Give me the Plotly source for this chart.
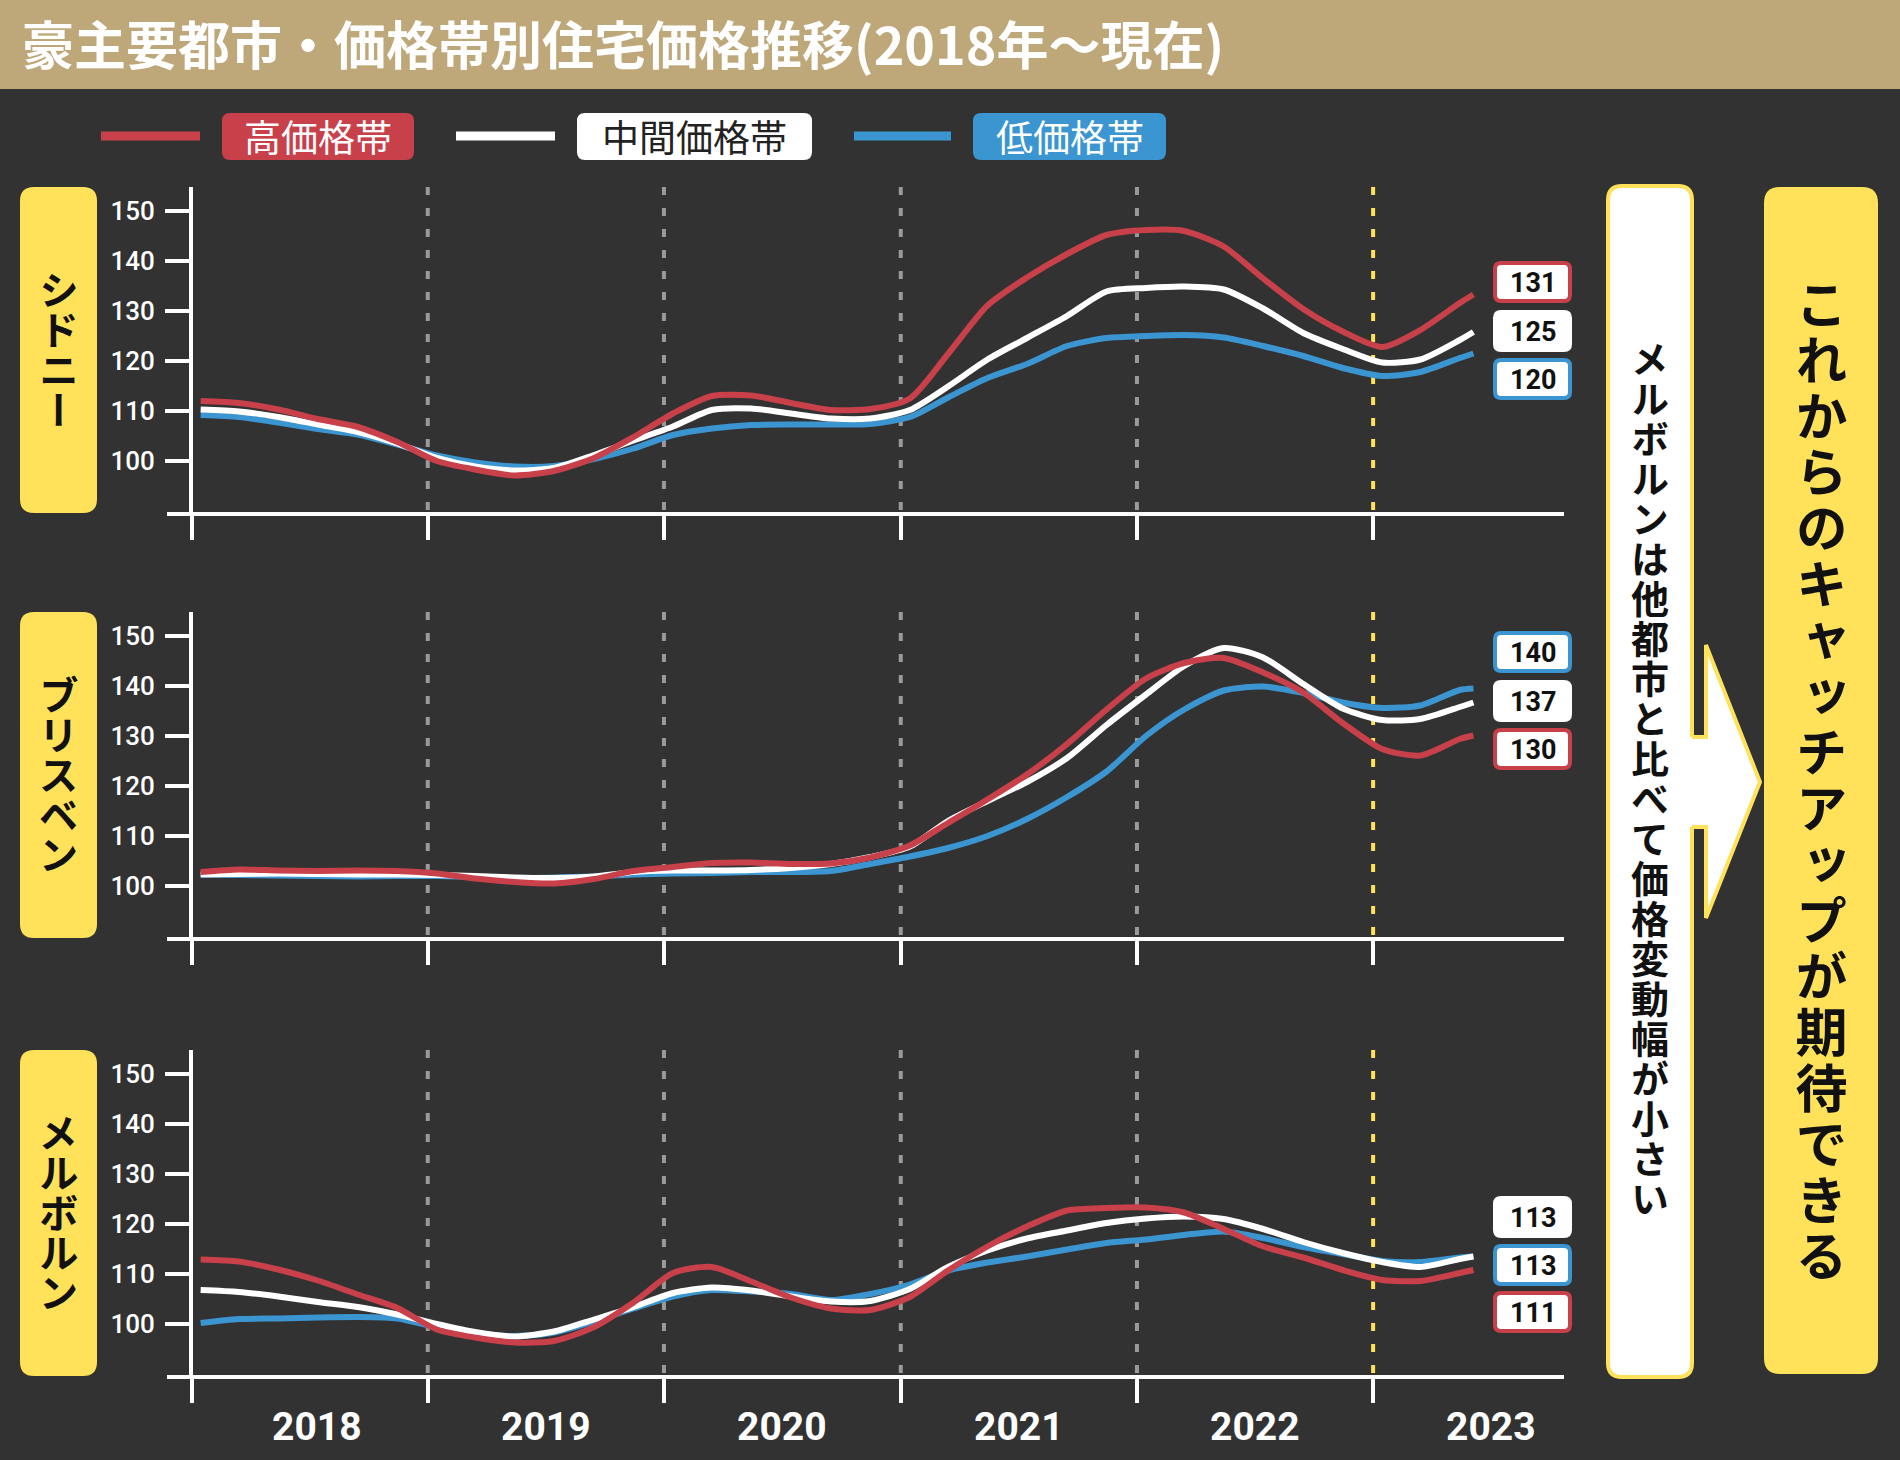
import json
import plotly.graph_objects as go

W, H = 1900, 1460

# ---------------- data ----------------
dates = [
    "2018-01-15", "2018-03-15", "2018-05-15", "2018-07-15", "2018-09-15", "2018-11-15",
    "2019-01-15", "2019-03-15", "2019-05-15", "2019-07-15", "2019-09-15", "2019-11-15",
    "2020-01-15", "2020-03-15", "2020-05-15", "2020-07-15", "2020-09-15", "2020-11-15",
    "2021-01-15", "2021-03-15", "2021-05-15", "2021-07-15", "2021-09-15", "2021-11-15",
    "2022-01-15", "2022-03-15", "2022-05-15", "2022-07-15", "2022-09-15", "2022-11-15",
    "2023-01-15", "2023-03-15", "2023-05-15", "2023-06-05",
]

cities = ["シドニー", "ブリスベン", "メルボルン"]
series_names = ["高価格帯", "中間価格帯", "低価格帯"]
year_labels = ["2018", "2019", "2020", "2021", "2022", "2023"]
y_ticks = [100, 110, 120, 130, 140, 150]

sydney_high = [112.0, 111.6, 110.3, 108.4, 106.8, 103.8, 100.0, 98.3, 97.1, 98.0, 100.6, 104.8,
               109.5, 113.0, 113.1, 111.6, 110.2, 110.4, 112.5, 121.4, 131.1, 136.7, 141.4, 145.2,
               146.2, 146.0, 142.9, 136.5, 130.4, 125.9, 122.8, 126.2, 131.6, 133.3]
sydney_mid = [110.3, 109.9, 108.8, 107.3, 105.8, 103.5, 100.6, 98.9, 98.1, 98.6, 101.2, 104.1,
              106.9, 110.2, 110.5, 109.5, 108.5, 108.5, 110.2, 114.9, 120.3, 124.6, 129.0, 133.9,
              134.6, 134.9, 134.3, 130.5, 125.6, 122.4, 119.7, 120.3, 124.2, 125.8]
sydney_low = [109.2, 108.8, 107.7, 106.4, 105.3, 103.3, 101.1, 99.7, 98.9, 99.0, 100.4, 102.5,
              105.2, 106.5, 107.2, 107.3, 107.3, 107.4, 108.8, 112.7, 116.6, 119.4, 123.0, 124.6,
              125.0, 125.2, 124.7, 123.0, 121.0, 118.6, 117.0, 117.8, 120.6, 121.5]

brisbane_high = [102.8, 103.3, 103.1, 103.0, 103.1, 103.0, 102.5, 101.5, 100.8, 100.5, 101.4, 103.0,
                 103.8, 104.6, 104.7, 104.4, 104.5, 105.7, 108.1, 112.6, 117.3, 122.3, 128.4, 135.3,
                 141.5, 144.6, 145.6, 142.7, 138.7, 132.6, 127.4, 126.1, 129.4, 130.1]
brisbane_mid = [102.3, 102.4, 102.5, 102.4, 102.3, 102.3, 102.2, 102.0, 101.7, 101.6, 101.9, 102.8,
                103.1, 103.1, 103.2, 103.6, 104.4, 105.8, 107.9, 113.0, 117.0, 120.8, 125.6, 132.2,
                138.3, 144.0, 147.6, 145.7, 140.4, 135.5, 133.2, 133.4, 135.8, 136.7]
brisbane_low = [102.3, 102.2, 102.1, 102.0, 101.9, 102.0, 102.0, 101.8, 101.5, 101.7, 101.9, 102.3,
                102.5, 102.6, 102.8, 102.8, 103.0, 104.4, 105.9, 107.6, 110.0, 113.4, 117.8, 122.9,
                130.0, 135.3, 139.1, 139.9, 138.6, 136.7, 135.6, 136.1, 139.2, 139.5]

melbourne_high = [112.9, 112.5, 110.9, 108.7, 105.9, 103.2, 98.9, 97.3, 96.3, 96.6, 99.4, 104.3,
                  110.2, 111.4, 108.5, 105.3, 103.1, 102.8, 105.4, 110.7, 115.5, 119.5, 122.7, 123.2,
                  123.3, 122.3, 119.0, 115.5, 113.3, 110.8, 108.8, 108.6, 110.2, 110.8]
melbourne_mid = [106.8, 106.4, 105.5, 104.4, 103.4, 101.9, 100.0, 98.4, 97.5, 98.5, 100.9, 103.4,
                 106.2, 107.3, 106.7, 105.5, 104.5, 104.6, 107.0, 111.4, 114.7, 117.1, 118.7, 120.2,
                 121.1, 121.5, 121.0, 119.0, 116.4, 114.2, 112.4, 111.4, 113.0, 113.5]
melbourne_low = [100.2, 101.0, 101.1, 101.3, 101.4, 101.1, 99.3, 98.0, 97.6, 98.3, 100.5, 103.1,
                 105.5, 106.8, 106.5, 106.0, 104.8, 106.0, 107.9, 110.7, 112.3, 113.5, 114.9, 116.2,
                 116.9, 117.8, 118.5, 117.2, 115.4, 114.0, 112.6, 112.4, 113.3, 113.5]

# latest values shown in the boxes at the right end of each panel
end_label_high = [131, 130, 111]
end_label_mid = [125, 137, 113]
end_label_low = [120, 140, 113]

note_text = "メルボルンは他都市と比べて価格変動幅が小さい"
conclusion_text = "これからのキャッチアップが期待できる"
title_text = "豪主要都市・価格帯別住宅価格推移(2018年～現在)"

# ---------------- style ----------------
BG = "#323232"
TITLE_BG = "#BEA87A"
RED = "#C8404A"
WHITE = "#FFFFFF"
BLUE = "#3A95D0"
YELLOW = "#FFE15A"
GRAY = "#9A9A9A"
INK = "#111111"
JP = "Noto Sans CJK JP"
NUM = "Roboto"

series_colors = [RED, WHITE, BLUE]
panel_data = [
    [sydney_high, sydney_mid, sydney_low],
    [brisbane_high, brisbane_mid, brisbane_low],
    [melbourne_high, melbourne_mid, melbourne_low],
]
end_labels = [[end_label_high[i], end_label_mid[i], end_label_low[i]] for i in range(3)]

# layout geometry (pixels)
panel_tops = [187, 612, 1050]
panel_h = 325
x_left, x_right = 167, 1564
yaxis_px = 191
y_range = [89.8, 154.8]
x_range = ["2017-11-24", "2023-10-23"]
label_y_px = [  # order: high, mid, low
    [282, 331, 379],
    [749, 701, 652],
    [1312, 1217, 1265],
]


def pxx(x):
    return x / W


def pyy(y):
    return 1 - y / H


def rrect_path(x0, y0, x1, y1, r):
    pts = [
        ("M", [(x0 + r, y0)]), ("L", [(x1 - r, y0)]), ("Q", [(x1, y0), (x1, y0 + r)]),
        ("L", [(x1, y1 - r)]), ("Q", [(x1, y1), (x1 - r, y1)]), ("L", [(x0 + r, y1)]),
        ("Q", [(x0, y1), (x0, y1 - r)]), ("L", [(x0, y0 + r)]), ("Q", [(x0, y0), (x0 + r, y0)]),
    ]
    s = ""
    for cmd, ps in pts:
        s += cmd + " " + " ".join(f"{pxx(a):.6f},{pyy(b):.6f}" for a, b in ps) + " "
    return s + "Z"


def poly_path(points, close=True):
    s = "M " + " L ".join(f"{pxx(a):.6f},{pyy(b):.6f}" for a, b in points)
    return s + (" Z" if close else "")


shapes = []
annotations = []
vertical_texts = {}  # text -> extra letter spacing (px); set upright (vertical-rl) in the page


def add_rrect(x0, y0, x1, y1, r, fill, line_color=None, line_width=0):
    shapes.append(dict(type="path", xref="paper", yref="paper", path=rrect_path(x0, y0, x1, y1, r),
                       fillcolor=fill, line=dict(color=line_color or fill, width=line_width),
                       layer="below"))


def add_text(text, x, y, size, color, weight="normal", family=JP, xanchor="center", **kw):
    annotations.append(dict(text=text, x=pxx(x), y=pyy(y), xref="paper", yref="paper",
                            showarrow=False, xanchor=xanchor, yanchor="middle",
                            font=dict(size=size, color=color, family=family, weight=weight), **kw))


def add_vertical(text, cx, cy, size, spacing):
    add_text(text, cx, cy, size, INK, weight="bold")
    vertical_texts[text] = spacing


# title bar
shapes.append(dict(type="rect", xref="paper", yref="paper", x0=0, x1=1, y0=pyy(89), y1=1,
                   fillcolor=TITLE_BG, line=dict(width=0), layer="below"))
add_text(title_text, 20, 42, 52, WHITE, weight="bold", xanchor="left")

# legend
legend_lines = [(101, 200), (456, 555), (854, 951)]
legend_boxes = [(222, 414), (577, 812), (973, 1166)]
legend_text_colors = [WHITE, "#222222", WHITE]
for i in range(3):
    lx0, lx1 = legend_lines[i]
    shapes.append(dict(type="line", xref="paper", yref="paper", x0=pxx(lx0), x1=pxx(lx1),
                       y0=pyy(136), y1=pyy(136), line=dict(color=series_colors[i], width=9)))
    bx0, bx1 = legend_boxes[i]
    add_rrect(bx0, 113, bx1, 160, 8, series_colors[i])
    add_text(series_names[i], (bx0 + bx1) / 2, 136, 37, legend_text_colors[i])

fig = go.Figure()
layout_axes = {}

for p in range(3):
    sfx = "" if p == 0 else str(p + 1)
    xa, ya = "x" + sfx, "y" + sfx
    top = panel_tops[p]
    layout_axes["xaxis" + sfx] = dict(
        domain=[pxx(x_left), pxx(x_right)], anchor=ya, type="date", range=x_range,
        showline=True, linecolor=WHITE, linewidth=4, ticks="outside", ticklen=24, tickwidth=4,
        tickcolor=WHITE, tickvals=[f"{y}-01-01" for y in year_labels], showticklabels=False,
        showgrid=False, zeroline=False, fixedrange=True,
    )
    layout_axes["yaxis" + sfx] = dict(
        domain=[pyy(top + panel_h), pyy(top)], anchor="free", position=pxx(yaxis_px),
        range=y_range, showline=True, linecolor=WHITE, linewidth=4, ticks="outside",
        ticklen=24, tickwidth=4, tickcolor=WHITE, tickvals=y_ticks,
        tickfont=dict(size=26, color=WHITE, family=NUM, weight=500), ticklabelstandoff=5,
        showgrid=False, zeroline=False, fixedrange=True,
    )
    # year separators
    for yr in year_labels[1:]:
        shapes.append(dict(type="line", xref=xa, yref=ya + " domain", x0=f"{yr}-01-01",
                           x1=f"{yr}-01-01", y0=1, y1=0,
                           line=dict(color=YELLOW if yr == "2023" else GRAY, width=4,
                                     dash="8px,13px"), layer="below"))
    # series (low first, high on top)
    for s in [2, 1, 0]:
        fig.add_trace(go.Scatter(
            x=dates, y=panel_data[p][s], xaxis=xa, yaxis=ya, mode="lines",
            line=dict(color=series_colors[s], width=6, shape="spline", smoothing=0.7),
            showlegend=False, hoverinfo="skip"))
    # city label box
    add_rrect(20, top, 97, top + 326, 14, YELLOW)
    add_vertical(cities[p], 58.5, top + 163, 40, 0)
    # end value boxes
    for s in range(3):
        cy = label_y_px[p][s]
        add_rrect(1495, cy - 19, 1570, cy + 19, 6, WHITE, series_colors[s], 4)
        add_text(str(end_labels[p][s]), 1532.5, cy + 1, 27, INK, weight="bold", family=NUM)

# year labels under the bottom panel
for yr in year_labels:
    annotations.append(dict(text=yr, x=f"{yr}-07-02", y=pyy(1427), xref="x3", yref="paper",
                            showarrow=False, xanchor="center", yanchor="middle",
                            xshift=8 if yr == "2018" else 0,
                            font=dict(size=39, color=WHITE, family=NUM, weight="bold")))

# note box with arrow
add_rrect(1608, 186, 1692, 1377, 14, WHITE, YELLOW, 4)
arrow_fill = [(1686, 737), (1706, 737), (1706, 645), (1760, 782), (1706, 918), (1706, 827),
              (1686, 827)]
shapes.append(dict(type="path", xref="paper", yref="paper", path=poly_path(arrow_fill),
                   fillcolor=WHITE, line=dict(width=0), layer="below"))
arrow_outline = [(1692, 737)] + arrow_fill[1:6] + [(1692, 827)]
shapes.append(dict(type="path", xref="paper", yref="paper", path=poly_path(arrow_outline, False),
                   fillcolor="rgba(0,0,0,0)", line=dict(color=YELLOW, width=4), layer="below"))
add_vertical(note_text, 1650, 779, 38, 2)

# conclusion box
add_rrect(1764, 187, 1878, 1374, 16, YELLOW)
add_vertical(conclusion_text, 1821, 782, 52, 4)

fig.update_layout(
    width=W, height=H, margin=dict(l=0, r=0, t=0, b=0),
    paper_bgcolor=BG, plot_bgcolor="rgba(0,0,0,0)",
    shapes=shapes, annotations=annotations, showlegend=False,
    **layout_axes,
)

# Japanese vertical writing: turn the marked annotation texts into upright vertical text
post_js = """
document.body.style.margin = '0';
var V = %s;
document.querySelectorAll('text.annotation-text').forEach(function (t) {
  var s = t.textContent;
  if (!Object.prototype.hasOwnProperty.call(V, s)) return;
  var r = t.parentNode.querySelector('rect.bg');
  if (!r) return;
  var x = parseFloat(r.getAttribute('x')) + parseFloat(r.getAttribute('width')) / 2;
  var y = parseFloat(r.getAttribute('y')) + parseFloat(r.getAttribute('height')) / 2;
  t.setAttribute('x', x);
  t.setAttribute('y', y);
  t.setAttribute('text-anchor', 'middle');
  t.style.writingMode = 'vertical-rl';
  t.style.dominantBaseline = 'central';
  t.style.letterSpacing = V[s] + 'px';
});
""" % json.dumps(vertical_texts, ensure_ascii=False)

fig.write_html("out.html", config={"displayModeBar": False}, post_script=post_js)
